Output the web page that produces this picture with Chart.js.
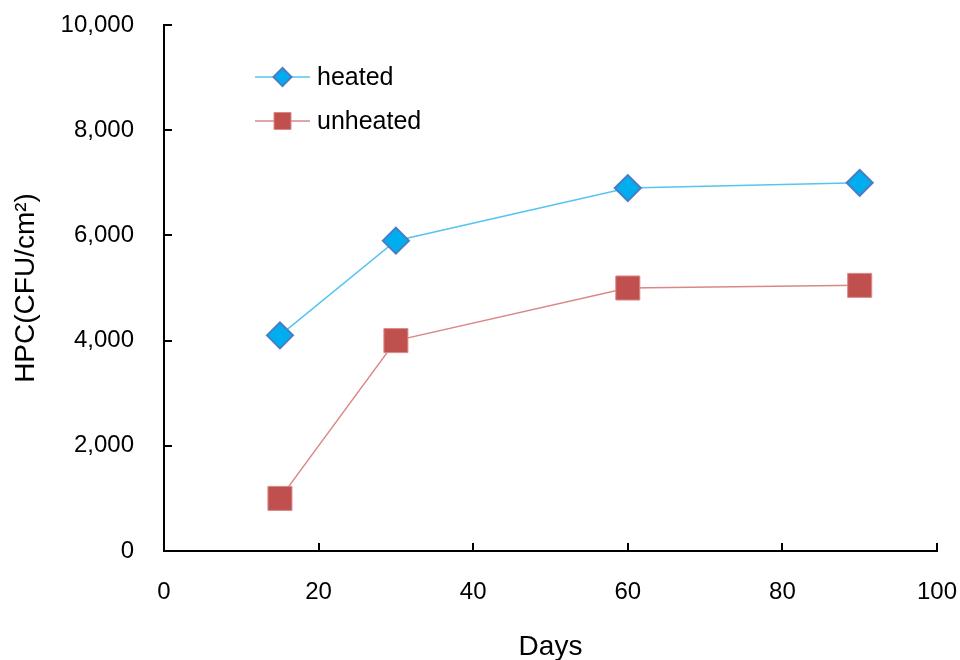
<!DOCTYPE html>
<html>
<head>
<meta charset="utf-8">
<script src="https://cdn.jsdelivr.net/npm/chart.js@4/dist/chart.umd.min.js"></script>
<style>
html,body{margin:0;padding:0;background:#fff;}
#wrap{width:960px;height:660px;position:relative;}
</style>
</head>
<body>
<div id="wrap"><canvas id="c" width="960" height="660"></canvas></div>
<script>
const days = [15, 30, 60, 90];
const heated = [4100, 5900, 6900, 7000];
const unheated = [1000, 4000, 5000, 5050];
const seriesNames = ['heated', 'unheated'];
const xTitle = 'Days';
const yTitle = 'HPC(CFU/cm\u00B2)';

const FONT = "'Liberation Sans', Arial, sans-serif";

const insideTicks = {
  id: 'insideTicks',
  afterDatasetsDraw(chart) {
    const ctx = chart.ctx;
    const xs = chart.scales.x, ys = chart.scales.y;
    const a = chart.chartArea;
    ctx.save();
    ctx.strokeStyle = '#000';
    ctx.lineWidth = 2;
    ctx.beginPath();
    xs.ticks.forEach(t => {
      const px = Math.round(xs.getPixelForValue(t.value));
      if (t.value === xs.min) return;
      ctx.moveTo(px, a.bottom);
      ctx.lineTo(px, a.bottom - 8);
    });
    ys.ticks.forEach(t => {
      const py = Math.round(ys.getPixelForValue(t.value));
      if (t.value === ys.min) return;
      ctx.moveTo(a.left, py);
      ctx.lineTo(a.left + 8, py);
    });
    ctx.stroke();
    ctx.restore();
  }
};

const customLegend = {
  id: 'customLegend',
  afterDraw(chart) {
    const ctx = chart.ctx;
    const a = chart.chartArea;
    const legendRadius = [9, 12];
    chart.data.datasets.forEach((ds, i) => {
      const y = a.top + 52 + i * 44;
      const x0 = a.left + 91, x1 = a.left + 146;
      ctx.save();
      ctx.strokeStyle = ds.borderColor;
      ctx.lineWidth = ds.borderWidth;
      ctx.beginPath();
      ctx.moveTo(x0, y);
      ctx.lineTo(x1, y);
      ctx.stroke();
      ctx.fillStyle = ds.pointBackgroundColor;
      ctx.strokeStyle = ds.pointBorderColor;
      ctx.lineWidth = ds.pointBorderWidth;
      Chart.helpers.drawPoint(ctx, {
        pointStyle: ds.pointStyle,
        radius: legendRadius[i],
        rotation: 0,
        borderWidth: ds.pointBorderWidth
      }, (x0 + x1) / 2, y);
      ctx.fillStyle = '#000';
      ctx.font = '25px ' + FONT;
      ctx.textBaseline = 'middle';
      ctx.textAlign = 'left';
      ctx.fillText(ds.label, a.left + 153, y + 1);
      ctx.restore();
    });
  }
};

new Chart(document.getElementById('c'), {
  type: 'line',
  data: {
    datasets: [
      {
        label: seriesNames[0],
        data: days.map((d, i) => ({x: d, y: heated[i]})),
        borderColor: '#55C4F0',
        borderWidth: 1.5,
        pointStyle: 'rectRot',
        pointRadius: 13,
        pointHoverRadius: 13,
        pointBackgroundColor: '#00AEEF',
        pointBorderColor: '#4A7CC4',
        pointBorderWidth: 2,
        tension: 0
      },
      {
        label: seriesNames[1],
        data: days.map((d, i) => ({x: d, y: unheated[i]})),
        borderColor: '#D98886',
        borderWidth: 1.5,
        pointStyle: 'rect',
        pointRadius: 17,
        pointHoverRadius: 17,
        pointBackgroundColor: '#C0504D',
        pointBorderColor: '#D98B89',
        pointBorderWidth: 1,
        tension: 0
      }
    ]
  },
  options: {
    responsive: false,
    animation: false,
    devicePixelRatio: 1,
    layout: { padding: { left: 0, top: 25, right: 23, bottom: 0 } },
    plugins: {
      legend: { display: false },
      tooltip: { enabled: false }
    },
    scales: {
      x: {
        type: 'linear',
        min: 0, max: 100,
        ticks: {
          stepSize: 20,
          color: '#000',
          font: { family: FONT, size: 24 },
          padding: 27
        },
        grid: { display: false, drawTicks: false },
        border: { display: true, color: '#000', width: 2 },
        title: {
          display: true, text: xTitle, color: '#000',
          font: { family: FONT, size: 28 },
          padding: { top: 0, bottom: -4 }
        },
        afterFit(s) { s.height = 109; s.paddingLeft = 0; s.paddingRight = 0; }
      },
      y: {
        type: 'linear',
        min: 0, max: 10000,
        ticks: {
          stepSize: 2000,
          color: '#000',
          font: { family: FONT, size: 24 },
          padding: 30,
          callback: v => v.toLocaleString('en-US')
        },
        grid: { display: false, drawTicks: false },
        border: { display: true, color: '#000', width: 2 },
        title: {
          display: true, text: yTitle, color: '#000',
          font: { family: FONT, size: 28 },
          padding: { top: 9, bottom: 0 }
        },
        afterFit(s) { s.width = 164; s.paddingTop = 0; s.paddingBottom = 0; }
      }
    }
  },
  plugins: [insideTicks, customLegend]
});
</script>
</body>
</html>
